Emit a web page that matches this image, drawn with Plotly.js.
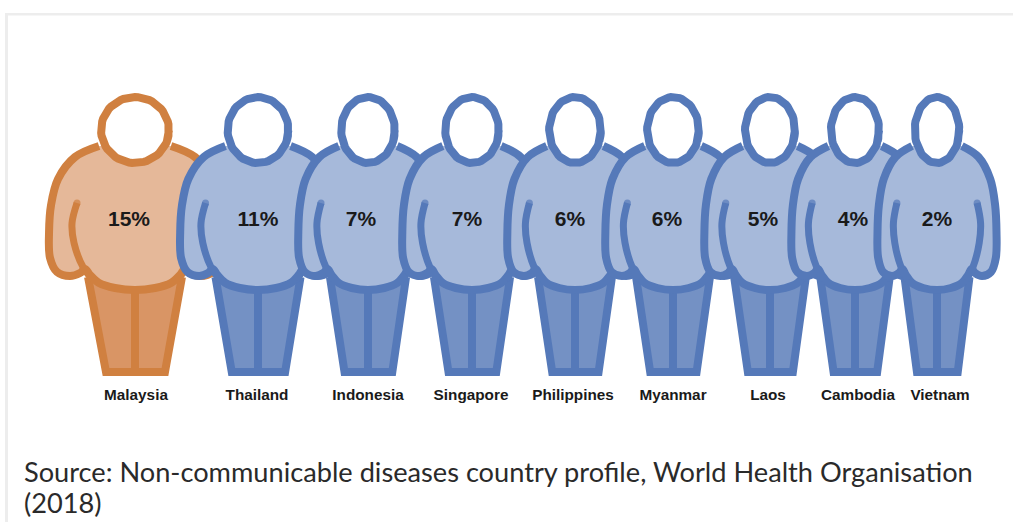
<!DOCTYPE html>
<html>
<head>
<meta charset="utf-8">
<script src="https://cdn.plot.ly/plotly-3.0.1.min.js"></script>
<style>html,body{margin:0;padding:0;background:#fff}#chart{width:1013px;height:522px}</style>
</head>
<body>
<div id="chart"></div>
<script>
// Data
const countries = ["Malaysia","Thailand","Indonesia","Singapore","Philippines","Myanmar","Laos","Cambodia","Vietnam"];
const values = [15,11,7,7,6,6,5,4,2];
const figureX = [135,258,368,472,575,673,770,855,937];
const categoryLabelX = [136,257,368,471,573,673,768,858,940];
const valueLabelX = [129,258,361,467,570,667,763,853,937];
const highlighted = ["Malaysia"];

// Pictogram outline, at the scale of the widest figure
const sideX = [-36,-60,-77,-84,-86,-85,-78,-65,-55,-50];
const sideY = [146,157,179,205,232,258,272,276,273,269];
const bellyX = [-45,-36,-20];
const bellyY = [275,283,288];
const armX = [-58,-63,-61,-52,-42];
const armY = [203,223,243,267,280];
const legX = [-47,-29,30,47];
const legY = [277,372,372,277];

const palettes = {
  accent: {stroke:"#D08040", body:"#E5B899", legs:"#D99565"},
  base:   {stroke:"#5579B9", body:"#A6B9DA", legs:"#7491C4"}
};
const halfWidth = v => 58 + 2.13 * v;

const traces = [];
function figure(i){
  const cx = figureX[i], s = halfWidth(values[i]) / 90;
  const pal = highlighted.includes(countries[i]) ? palettes.accent : palettes.base;
  const px = a => a.map(d => cx + s * d);
  const base = {type:"scatter", mode:"lines", hoverinfo:"skip", showlegend:false};
  // legs
  traces.push({...base, x:px(legX), y:legY, fill:"toself", fillcolor:pal.legs,
    line:{color:pal.stroke,width:8}});
  traces.push({...base, x:[cx,cx], y:[285,372], line:{color:pal.stroke,width:8}});
  // torso with arms
  const bx = [...sideX, ...bellyX, 0, ...bellyX.slice().reverse().map(d=>-d), ...sideX.slice().reverse().map(d=>-d)];
  const by = [...sideY, ...bellyY, 290, ...bellyY.slice().reverse(), ...sideY.slice().reverse()];
  traces.push({...base, x:px(bx), y:by, fill:"toself", fillcolor:pal.body,
    line:{color:pal.stroke,width:8,shape:"spline",smoothing:1}});
  // arm creases
  [1,-1].forEach(sign => {
    traces.push({...base, mode:"lines+markers", x:px(armX.map(d=>sign*d)), y:armY,
      line:{color:pal.stroke,width:7,shape:"spline",smoothing:1},
      marker:{color:pal.stroke,size:[7,0,0,0,0],line:{width:0}}});
  });
  // head
  const rx = 38*s-4, ry = 33, hx = [], hy = [];
  for(let k=0;k<=76;k++){const a=k/72*2*Math.PI; hx.push(cx+rx*Math.cos(a)); hy.push(130+ry*Math.sin(a));}
  traces.push({...base, x:hx, y:hy, fill:"toself", fillcolor:"#FFFFFF", line:{color:pal.stroke,width:8}});
}
countries.forEach((c,i)=>figure(i));

traces.push({type:"scatter", mode:"text", x:valueLabelX, y:values.map(()=>221),
  text:values.map(v=>v+"%"), textposition:"middle center", hoverinfo:"skip", showlegend:false,
  textfont:{family:"Liberation Sans, Arial, sans-serif",size:21,color:"#1a1a1a",weight:700}});

const H = 522, plotH = 384;
const py = y => (plotH - y) / plotH; // page pixel row to paper fraction
const layout = {
  width:1013, height:H,
  margin:{l:0,r:0,t:0,b:H-plotH,pad:0},
  paper_bgcolor:"#fff", plot_bgcolor:"rgba(0,0,0,0)",
  showlegend:false,
  xaxis:{range:[0,1013],fixedrange:true,showgrid:false,zeroline:false,showline:false,ticks:"",
    tickmode:"array",tickvals:categoryLabelX,ticktext:countries,tickangle:0,ticklen:0,
    tickfont:{family:"Liberation Sans, Arial, sans-serif",size:15.3,color:"#1a1a1a",weight:700}},
  yaxis:{range:[plotH,0],fixedrange:true,visible:false},
  shapes:[
    {type:"rect",xref:"paper",yref:"paper",x0:5/1013,x1:8/1013,y0:py(H),y1:py(13),fillcolor:"#EDEDED",line:{width:0},layer:"below"},
    {type:"rect",xref:"paper",yref:"paper",x0:5/1013,x1:1,y0:py(13),y1:py(15.5),fillcolor:"#EDEDED",line:{width:0},layer:"below"}
  ],
  annotations:[
    {xref:"paper",yref:"paper",x:22/1013,y:py(471),xanchor:"left",yanchor:"middle",align:"left",showarrow:false,
     text:"Source: Non-communicable diseases country profile, World Health Organisation",
     font:{family:"Lato, sans-serif",size:27.2,color:"#2a2a2a"}},
    {xref:"paper",yref:"paper",x:22/1013,y:py(502),xanchor:"left",yanchor:"middle",align:"left",showarrow:false,
     text:"(2018)",font:{family:"Lato, sans-serif",size:27.2,color:"#2a2a2a"}}
  ]
};
Plotly.newPlot("chart",traces,layout,{displayModeBar:false,responsive:false});
</script>
</body>
</html>
